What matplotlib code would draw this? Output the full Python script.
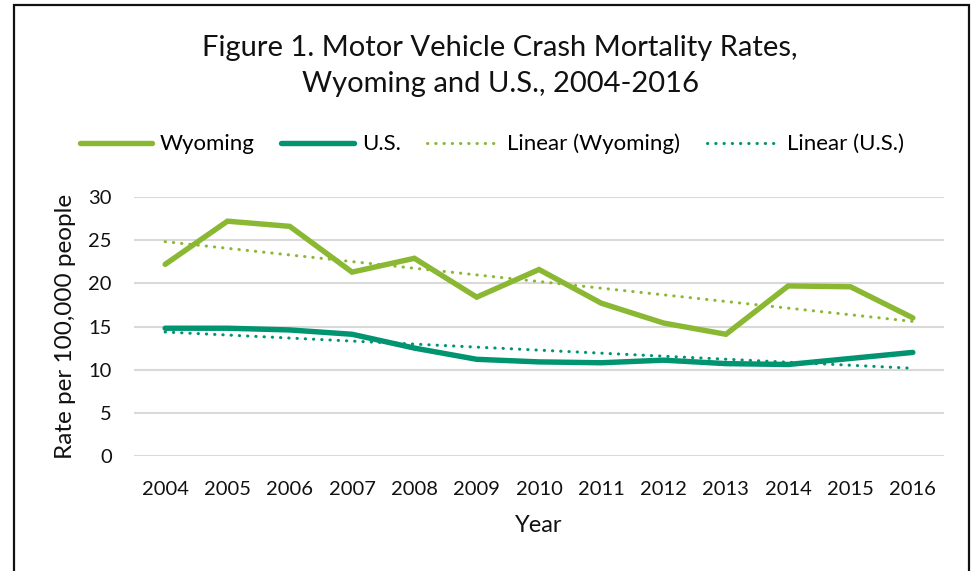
import matplotlib.pyplot as plt
import numpy as np
from matplotlib.patches import Rectangle

plt.rcParams["font.family"] = ["Lato", "DejaVu Sans"]

YEARS = [2004, 2005, 2006, 2007, 2008, 2009, 2010, 2011, 2012, 2013, 2014, 2015, 2016]
WYOMING = [22.2, 27.2, 26.6, 21.3, 22.9, 18.4, 21.6, 17.7, 15.4, 14.1, 19.7, 19.6, 16.0]
US = [14.8, 14.8, 14.6, 14.1, 12.5, 11.2, 10.9, 10.8, 11.1, 10.7, 10.6, 11.3, 12.0]
Y_TICKS = [0, 5, 10, 15, 20, 25, 30]

WY_COLOR = "#8AB833"
US_COLOR = "#009471"

fig = plt.figure(figsize=(9.77, 5.71), dpi=100)
ax = fig.add_axes([134 / 977, 115 / 571, 810 / 977, 259 / 571])

x = np.arange(len(YEARS))

ax.plot(x, WYOMING, color=WY_COLOR, lw=3.9, solid_capstyle="round",
        solid_joinstyle="miter", label="Wyoming", zorder=4)
ax.plot(x, US, color=US_COLOR, lw=3.9, solid_capstyle="round",
        solid_joinstyle="miter", label="U.S.", zorder=4)

# Excel-style linear trendlines fitted to each series
for values, color, name in [(WYOMING, WY_COLOR, "Linear (Wyoming)"),
                            (US, US_COLOR, "Linear (U.S.)")]:
    slope, intercept = np.polyfit(x, values, 1)
    ax.plot(x, slope * x + intercept, color=color, lw=2.2,
            linestyle=(0, (0.1, 2.6)), dash_capstyle="round", label=name, zorder=3)

ax.set_xlim(-0.5, len(YEARS) - 0.5)
ax.set_ylim(0, 30)
ax.set_yticks(Y_TICKS)
ax.set_xticks(x)
ax.set_xticklabels([str(y) for y in YEARS])
ax.tick_params(length=0, labelsize=14.5, colors="#111111")
ax.tick_params(axis="y", pad=16)
ax.tick_params(axis="x", pad=18)
ax.grid(axis="y", color="#D9D9D9", lw=1.5)
ax.set_axisbelow(True)
for spine in ax.spines.values():
    spine.set_visible(False)

ax.set_xlabel("Year", fontsize=17, labelpad=12, color="#111111")
ax.set_ylabel("Rate per 100,000 people", fontsize=17.5, labelpad=9, color="#111111")

fig.text(500 / 977, 1 - 66 / 571,
         "Figure 1. Motor Vehicle Crash Mortality Rates,\nWyoming and U.S., 2004-2016",
         ha="center", va="center", fontsize=21, linespacing=1.48, color="#111111")

fig.legend(loc="center", bbox_to_anchor=(492 / 977, 1 - 144 / 571), ncol=4,
           frameon=False, fontsize=16, handlelength=3.25, columnspacing=1.2,
           handletextpad=0.36)

fig.patches.append(Rectangle((14 / 977, -0.05), 955 / 977, 1.05 - 5 / 571,
                             transform=fig.transFigure, fill=False,
                             edgecolor="#111111", lw=1.6))

fig.savefig("out.png", dpi=100)
